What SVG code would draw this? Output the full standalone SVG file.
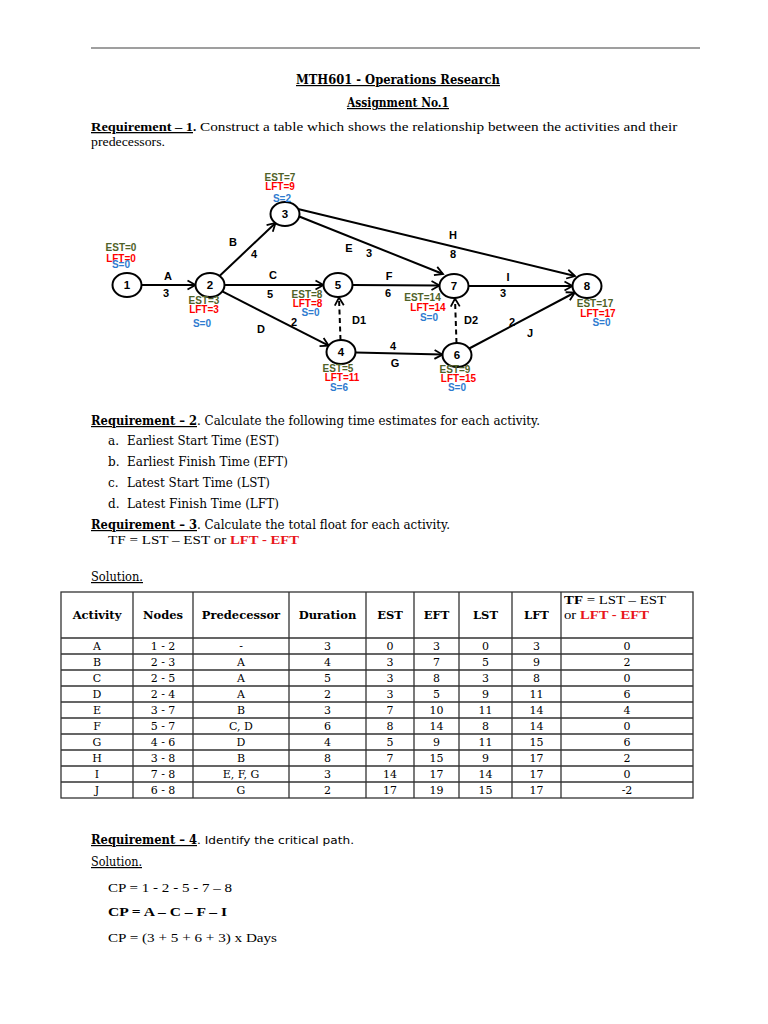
<svg xmlns="http://www.w3.org/2000/svg" width="768" height="1024" viewBox="0 0 768 1024">
<style>
.bg{fill:#fff}
.rule{stroke:#7f7f7f;stroke-width:1.5}
.ser{font-family:"Liberation Serif","Times New Roman",serif;font-size:13px;fill:#000}
.dser{font-family:"DejaVu Serif",serif;font-size:12px;fill:#000}
.b{font-weight:bold}
.u{text-decoration:underline}
.red{fill:#e8161b;font-weight:bold}
.node ellipse{fill:#fff;stroke:#000;stroke-width:2}
.node text.n{font-family:"Liberation Sans",Arial,sans-serif;font-weight:bold;font-size:11.5px;text-anchor:middle;fill:#000}
.ann{font-family:"Liberation Sans",Arial,sans-serif;font-weight:bold;font-size:10px;text-anchor:middle}
.est{fill:#4f6228}
.lft{fill:#ff0000}
.sl{fill:#2e7bcf}
.edge{stroke:#000;stroke-width:2;fill:none;marker-end:url(#arr)}
.dash{stroke-dasharray:5,3.5}
.lbl{font-family:"Liberation Sans",Arial,sans-serif;font-weight:bold;font-size:11px;text-anchor:middle;fill:#000}
.tl{stroke:#333;stroke-width:1.3;fill:none}
.th{font-family:"DejaVu Serif",serif;font-weight:bold;font-size:11.5px;text-anchor:middle;fill:#000}
.td{font-family:"DejaVu Serif",serif;font-size:11px;text-anchor:middle;fill:#000}
</style>
<defs>
<marker id="arr" markerUnits="userSpaceOnUse" markerWidth="12" markerHeight="12" refX="0" refY="0" orient="auto" overflow="visible" viewBox="-10 -6 12 12">
<path d="M-8,-4.5 L0,0 L-8,4.5" fill="none" stroke="#000" stroke-width="1.8"/>
</marker>
</defs>
<rect class="bg" x="0" y="0" width="768" height="1024"/>
<line class="rule" x1="91" y1="48" x2="700" y2="48"/>

<g id="header-text">
<text class="dser b u" x="398" y="84" text-anchor="middle" textLength="204" lengthAdjust="spacingAndGlyphs" font-size="12.5">MTH601 - Operations Research</text>
<text class="dser b u" x="398" y="107" text-anchor="middle" textLength="102" lengthAdjust="spacingAndGlyphs" font-size="12.5">Assignment No.1</text>
<text class="ser" x="91" y="131"><tspan class="b u" textLength="102" lengthAdjust="spacingAndGlyphs">Requirement – 1</tspan><tspan class="b">.</tspan><tspan textLength="481" lengthAdjust="spacingAndGlyphs"> Construct a table which shows the relationship between the activities and their</tspan></text>
<text class="ser" x="91" y="146" textLength="74" lengthAdjust="spacingAndGlyphs">predecessors.</text>
</g>

<g id="connectors">
<line class="edge" x1="141.5" y1="285" x2="195.5" y2="285"/>
<line class="edge" x1="219.5" y1="276" x2="275.5" y2="223"/>
<line class="edge" x1="224.5" y1="285" x2="323.5" y2="285"/>
<line class="edge" x1="222.3" y1="291.3" x2="328.7" y2="345.7"/>
<line class="edge dash" x1="340.5" y1="340" x2="339" y2="297.5"/>
<line class="edge" x1="352.5" y1="285" x2="439.5" y2="285.5"/>
<line class="edge" x1="298" y1="216" x2="443" y2="274"/>
<line class="edge" x1="298" y1="209" x2="575" y2="276"/>
<line class="edge" x1="468.5" y1="286" x2="572.5" y2="286"/>
<line class="edge" x1="355.5" y1="352.4" x2="442.5" y2="354.6"/>
<line class="edge dash" x1="456.5" y1="343" x2="455" y2="298.5"/>
<line class="edge" x1="469.2" y1="348.5" x2="574.8" y2="292.5"/>
<text class="lbl" x="168" y="280">A</text><text class="lbl" x="166" y="297">3</text>
<text class="lbl" x="233" y="246">B</text><text class="lbl" x="254" y="258">4</text>
<text class="lbl" x="273" y="279">C</text><text class="lbl" x="270" y="298">5</text>
<text class="lbl" x="261" y="333">D</text><text class="lbl" x="294" y="326">2</text>
<text class="lbl" x="349" y="252">E</text><text class="lbl" x="369" y="257">3</text>
<text class="lbl" x="453" y="239">H</text><text class="lbl" x="453" y="258">8</text>
<text class="lbl" x="389" y="280">F</text><text class="lbl" x="388" y="297">6</text>
<text class="lbl" x="508" y="281">I</text><text class="lbl" x="503" y="297">3</text>
<text class="lbl" x="359" y="324">D1</text><text class="lbl" x="471" y="324">D2</text>
<text class="lbl" x="530" y="337">J</text><text class="lbl" x="512" y="326">2</text>
<text class="lbl" x="393" y="350">4</text><text class="lbl" x="395" y="367">G</text>
</g>

<g id="node1" class="node"><ellipse cx="127" cy="285" rx="14.5" ry="12"/><text class="n" x="127" y="289">1</text>
<text class="ann est" x="121" y="251">EST=0</text><text class="ann lft" x="121" y="261.5">LFT=0</text><text class="ann sl" x="121" y="268">S=0</text></g>
<g id="node2" class="node"><ellipse cx="210" cy="285" rx="14.5" ry="12"/><text class="n" x="210" y="289">2</text>
<text class="ann est" x="204" y="304">EST=3</text><text class="ann lft" x="204" y="313">LFT=3</text><text class="ann sl" x="202" y="327">S=0</text></g>
<g id="node3" class="node"><ellipse cx="285" cy="214" rx="14.5" ry="12"/><text class="n" x="285" y="218">3</text>
<text class="ann est" x="280" y="181">EST=7</text><text class="ann lft" x="280" y="190">LFT=9</text><text class="ann sl" x="282" y="201.5">S=2</text></g>
<g id="node4" class="node"><ellipse cx="341" cy="352" rx="14.5" ry="12"/><text class="n" x="341" y="356">4</text>
<text class="ann est" x="338" y="372">EST=5</text><text class="ann lft" x="342" y="381">LFT=11</text><text class="ann sl" x="339" y="390.5">S=6</text></g>
<g id="node5" class="node"><ellipse cx="338" cy="285" rx="14.5" ry="12"/><text class="n" x="338" y="289">5</text>
<text class="ann est" x="307" y="297.5">EST=8</text><text class="ann lft" x="307.5" y="307">LFT=8</text><text class="ann sl" x="310.5" y="315.5">S=0</text></g>
<g id="node6" class="node"><ellipse cx="457" cy="355" rx="14.5" ry="12"/><text class="n" x="457" y="359">6</text>
<text class="ann est" x="455" y="372.5">EST=9</text><text class="ann lft" x="458.5" y="381.5">LFT=15</text><text class="ann sl" x="457" y="391">S=0</text></g>
<g id="node7" class="node"><ellipse cx="454" cy="286" rx="14.5" ry="12"/><text class="n" x="454" y="290">7</text>
<text class="ann est" x="422.5" y="300.5">EST=14</text><text class="ann lft" x="428" y="311">LFT=14</text><text class="ann sl" x="429" y="321">S=0</text></g>
<g id="node8" class="node"><ellipse cx="587" cy="286" rx="14.5" ry="12"/><text class="n" x="587" y="290">8</text>
<text class="ann est" x="595" y="307">EST=17</text><text class="ann lft" x="598" y="316.5">LFT=17</text><text class="ann sl" x="601.5" y="325.5">S=0</text></g>

<g id="requirements">
<text class="dser" x="91" y="425"><tspan class="b u" textLength="106" lengthAdjust="spacingAndGlyphs">Requirement – 2</tspan><tspan textLength="343" lengthAdjust="spacingAndGlyphs">. Calculate the following time estimates for each activity.</tspan></text>
<text class="dser" x="108" y="445">a.</text><text class="dser" x="127" y="445" textLength="152" lengthAdjust="spacingAndGlyphs">Earliest Start Time (EST)</text>
<text class="dser" x="108" y="466">b.</text><text class="dser" x="127" y="466" textLength="161" lengthAdjust="spacingAndGlyphs">Earliest Finish Time (EFT)</text>
<text class="dser" x="108" y="487">c.</text><text class="dser" x="127" y="487" textLength="143" lengthAdjust="spacingAndGlyphs">Latest Start Time (LST)</text>
<text class="dser" x="108" y="508">d.</text><text class="dser" x="127" y="508" textLength="152" lengthAdjust="spacingAndGlyphs">Latest Finish Time (LFT)</text>
<text class="dser" x="91" y="529"><tspan class="b u" textLength="106" lengthAdjust="spacingAndGlyphs">Requirement – 3</tspan><tspan textLength="253" lengthAdjust="spacingAndGlyphs">. Calculate the total float for each activity.</tspan></text>
<text class="ser" x="108" y="544"><tspan textLength="122" lengthAdjust="spacingAndGlyphs">TF = LST – EST or </tspan><tspan class="red" textLength="69" lengthAdjust="spacingAndGlyphs">LFT - EFT</tspan></text>
<text class="dser u" x="91" y="581" textLength="52" lengthAdjust="spacingAndGlyphs">Solution.</text>
</g>

<g id="table">
<rect class="tl" x="61" y="592" width="632" height="206"/>
<path class="tl" d="M133,592V798M193,592V798M289,592V798M366,592V798M414,592V798M459,592V798M512,592V798M561,592V798"/>
<path class="tl" d="M61,638H693M61,654H693M61,670H693M61,686H693M61,702H693M61,718H693M61,734H693M61,750H693M61,766H693M61,782H693"/>
<text class="th" x="97" y="619">Activity</text>
<text class="th" x="163" y="619">Nodes</text>
<text class="th" x="241" y="619">Predecessor</text>
<text class="th" x="327.5" y="619">Duration</text>
<text class="th" x="390" y="619">EST</text>
<text class="th" x="436.5" y="619">EFT</text>
<text class="th" x="485.5" y="619">LST</text>
<text class="th" x="536.5" y="619">LFT</text>
<text class="ser" x="564" y="604" textLength="102" lengthAdjust="spacingAndGlyphs"><tspan class="b">TF</tspan> = LST – EST</text>
<text class="ser" x="564" y="619" textLength="85" lengthAdjust="spacingAndGlyphs">or <tspan class="red">LFT - EFT</tspan></text>
<g class="td">
<text x="97" y="650">A</text><text x="163" y="650">1 - 2</text><text x="241" y="650">-</text><text x="327.5" y="650">3</text><text x="390" y="650">0</text><text x="436.5" y="650">3</text><text x="485.5" y="650">0</text><text x="536.5" y="650">3</text><text x="627" y="650">0</text>
<text x="97" y="666">B</text><text x="163" y="666">2 - 3</text><text x="241" y="666">A</text><text x="327.5" y="666">4</text><text x="390" y="666">3</text><text x="436.5" y="666">7</text><text x="485.5" y="666">5</text><text x="536.5" y="666">9</text><text x="627" y="666">2</text>
<text x="97" y="682">C</text><text x="163" y="682">2 - 5</text><text x="241" y="682">A</text><text x="327.5" y="682">5</text><text x="390" y="682">3</text><text x="436.5" y="682">8</text><text x="485.5" y="682">3</text><text x="536.5" y="682">8</text><text x="627" y="682">0</text>
<text x="97" y="698">D</text><text x="163" y="698">2 - 4</text><text x="241" y="698">A</text><text x="327.5" y="698">2</text><text x="390" y="698">3</text><text x="436.5" y="698">5</text><text x="485.5" y="698">9</text><text x="536.5" y="698">11</text><text x="627" y="698">6</text>
<text x="97" y="714">E</text><text x="163" y="714">3 - 7</text><text x="241" y="714">B</text><text x="327.5" y="714">3</text><text x="390" y="714">7</text><text x="436.5" y="714">10</text><text x="485.5" y="714">11</text><text x="536.5" y="714">14</text><text x="627" y="714">4</text>
<text x="97" y="730">F</text><text x="163" y="730">5 - 7</text><text x="241" y="730">C, D</text><text x="327.5" y="730">6</text><text x="390" y="730">8</text><text x="436.5" y="730">14</text><text x="485.5" y="730">8</text><text x="536.5" y="730">14</text><text x="627" y="730">0</text>
<text x="97" y="746">G</text><text x="163" y="746">4 - 6</text><text x="241" y="746">D</text><text x="327.5" y="746">4</text><text x="390" y="746">5</text><text x="436.5" y="746">9</text><text x="485.5" y="746">11</text><text x="536.5" y="746">15</text><text x="627" y="746">6</text>
<text x="97" y="762">H</text><text x="163" y="762">3 - 8</text><text x="241" y="762">B</text><text x="327.5" y="762">8</text><text x="390" y="762">7</text><text x="436.5" y="762">15</text><text x="485.5" y="762">9</text><text x="536.5" y="762">17</text><text x="627" y="762">2</text>
<text x="97" y="778">I</text><text x="163" y="778">7 - 8</text><text x="241" y="778">E, F, G</text><text x="327.5" y="778">3</text><text x="390" y="778">14</text><text x="436.5" y="778">17</text><text x="485.5" y="778">14</text><text x="536.5" y="778">17</text><text x="627" y="778">0</text>
<text x="97" y="794">J</text><text x="163" y="794">6 - 8</text><text x="241" y="794">G</text><text x="327.5" y="794">2</text><text x="390" y="794">17</text><text x="436.5" y="794">19</text><text x="485.5" y="794">15</text><text x="536.5" y="794">17</text><text x="627" y="794">-2</text>
</g>
</g>

<g id="critical-path">
<text class="dser" x="91" y="844"><tspan class="b u" textLength="106" lengthAdjust="spacingAndGlyphs">Requirement – 4</tspan><tspan font-family="DejaVu Sans, sans-serif" font-size="11" textLength="157" lengthAdjust="spacingAndGlyphs">. Identify the critical path.</tspan></text>
<text class="dser u" x="91" y="866" textLength="51" lengthAdjust="spacingAndGlyphs">Solution.</text>
<text class="ser" x="108" y="892" textLength="124" lengthAdjust="spacingAndGlyphs">CP = 1 - 2 - 5 - 7 – 8</text>
<text class="ser b" x="108" y="916" textLength="119" lengthAdjust="spacingAndGlyphs">CP = A – C – F – I</text>
<text class="ser" x="108" y="942" textLength="169" lengthAdjust="spacingAndGlyphs">CP = (3 + 5 + 6 + 3) x Days</text>
</g>
</svg>
